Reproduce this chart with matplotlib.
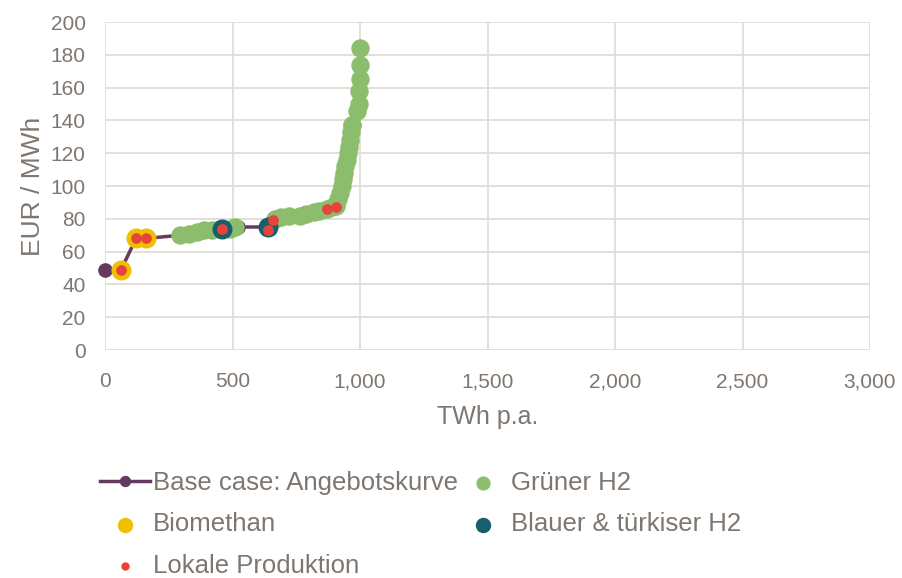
import matplotlib.pyplot as plt

plt.rcParams['font.family'] = ['Liberation Sans', 'DejaVu Sans']

# Angebotskurve (base case)
base_x = [0, 63, 122, 160, 295, 460, 520, 640, 660, 720, 820, 900, 940, 970, 990, 1000]
base_y = [49, 49, 68, 68, 70, 74, 75, 75, 79, 82, 84, 88, 108, 137, 146, 184]

bio_x = [63, 122, 160]
bio_y = [49, 68, 68]

green_x = [295, 330, 360, 390, 420, 450, 490, 510,
           665, 690, 720, 765, 790, 820, 840, 870, 890, 905,
           915, 922, 928, 933, 938, 943, 948, 953, 958, 962, 966, 968, 970,
           990, 995, 998, 1000, 1000, 1000]
green_y = [70, 71, 72, 73, 73, 74, 74, 75,
           80, 81, 82, 82, 83, 84, 85, 86, 87, 88,
           92, 96, 100, 104, 108, 112, 116, 120, 124, 128, 133, 137, 137,
           146, 150, 158, 165, 174, 184]

blue_x = [460, 640]
blue_y = [74, 75]

red_x = [63, 122, 160, 460, 640, 660, 870, 906]
red_y = [49, 68, 68, 74, 73, 79, 86, 87]

x_ticks = [0, 500, 1000, 1500, 2000, 2500, 3000]
y_ticks = list(range(0, 201, 20))

txt = '#7f766f'
fig = plt.figure(figsize=(9.02, 5.78), dpi=100)
ax = fig.add_axes([105 / 902, 1 - 350 / 578, 765 / 902, 328 / 578])

ax.plot(base_x, base_y, color='#643a5e', lw=2.5, marker='o', markersize=9.5,
        label='Base case: Angebotskurve', zorder=2, clip_on=False)
ax.scatter(green_x, green_y, s=150, color='#8cbd6c', label='Grüner H2', zorder=3, clip_on=False)
ax.scatter(bio_x, bio_y, s=180, color='#efc000', label='Biomethan', zorder=4, clip_on=False)
ax.scatter(blue_x, blue_y, s=180, color='#17606b', label='Blauer & türkiser H2', zorder=4, clip_on=False)
ax.scatter(red_x, red_y, s=45, color='#e8433a', label='Lokale Produktion', zorder=5, clip_on=False)

ax.set_xlim(0, 3000)
ax.set_ylim(0, 200)
ax.set_xticks(x_ticks)
ax.set_xticklabels([f'{v:,}' for v in x_ticks])
ax.set_yticks(y_ticks)
ax.grid(True, color='#e0dcd8', lw=1.3)
ax.set_axisbelow(True)
for s in ax.spines.values():
    s.set_visible(False)
ax.tick_params(length=0, labelsize=15, labelcolor=txt)
ax.tick_params(axis='x', pad=16)
ax.tick_params(axis='y', pad=14)
ax.set_xlabel('TWh p.a.', fontsize=18, color=txt, labelpad=10)
ax.set_ylabel('EUR / MWh', fontsize=19, color=txt, labelpad=4)

h, l = ax.get_legend_handles_labels()
order = [0, 2, 4, 1, 3]
leg = fig.legend([h[i] for i in order], [l[i] for i in order], ncol=2,
                 loc='upper left', bbox_to_anchor=(100 / 902, 1 - 471 / 578),
                 frameon=False, fontsize=18.5, labelcolor=txt, labelspacing=0.68,
                 columnspacing=0.0, handlelength=1.95, handletextpad=0.12,
                 borderaxespad=0, borderpad=0, markerscale=0.75)

fig.savefig('out.png', dpi=100)
